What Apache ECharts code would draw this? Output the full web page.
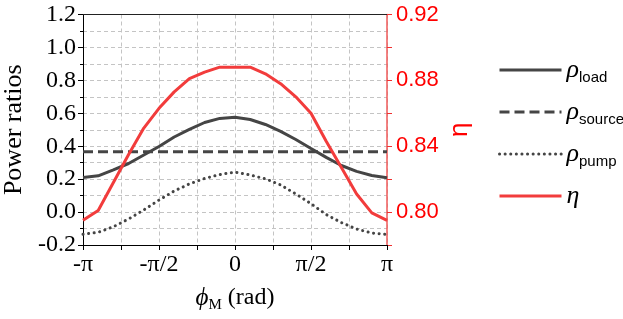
<!DOCTYPE html>
<html><head><meta charset="utf-8">
<script src="https://cdn.jsdelivr.net/npm/echarts@6/dist/echarts.min.js"></script>
<style>html,body{margin:0;padding:0;background:#fff}#c{width:623px;height:319px}</style>
</head><body><div id="c"></div>
<script>
// phase in units of pi
const phase = [-1,-0.9,-0.8,-0.7,-0.6,-0.5,-0.4,-0.3,-0.2,-0.1,0,0.1,0.2,0.3,0.4,0.5,0.6,0.7,0.8,0.9,1];
const rhoLoad = [0.210,0.220,0.256,0.295,0.347,0.398,0.456,0.502,0.544,0.569,0.576,0.562,0.532,0.490,0.441,0.386,0.332,0.283,0.247,0.222,0.209];
const rhoSource = [0.367,0.367,0.367,0.367,0.367,0.367,0.367,0.367,0.367,0.367,0.367,0.367,0.367,0.367,0.367,0.367,0.367,0.367,0.367,0.367,0.367];
const rhoPump = [-0.135,-0.123,-0.089,-0.042,0.013,0.073,0.128,0.171,0.204,0.228,0.243,0.225,0.202,0.165,0.110,0.051,-0.015,-0.064,-0.103,-0.127,-0.136];
const eta = [0.795,0.801,0.818,0.835,0.851,0.863,0.873,0.881,0.885,0.888,0.888,0.888,0.884,0.878,0.870,0.860,0.843,0.827,0.811,0.7995,0.795];
const xTickLabels = {'-1':'-π','-0.5':'-π/2','0':'0','0.5':'π/2','1':'π'};

const pair = (ys) => phase.map((x,i)=>[x, ys[i]]);
const serif = 'Liberation Serif';
const sans = 'Liberation Sans';
const dark = '#454545';
const red = '#f23c3c';

const chart = echarts.init(document.getElementById('c'), null, {renderer:'canvas'});
chart.setOption({
  animation:false,
  backgroundColor:'#fff',
  textStyle:{fontFamily:serif},
  grid:{left:81, right:236, top:14.5, bottom:74},
  legend:{
    orient:'vertical', left:493, top:52, itemWidth:62, itemHeight:14, itemGap:14,
    data:['load','source','pump','eta'],
    itemStyle:{opacity:0},
    lineStyle:{width:3},
    formatter: function(n){ return n==='eta' ? '{g|η}' : '{r|ρ}{s|'+n+'}'; },
    textStyle:{
      fontFamily:serif, fontStyle:'italic', fontSize:26, color:'#000',
      rich:{
        r:{fontFamily:serif, fontStyle:'italic', fontSize:26, color:'#000', lineHeight:30, verticalAlign:'middle'},
        g:{fontFamily:serif, fontStyle:'italic', fontSize:26, color:'#000', lineHeight:30, verticalAlign:'middle'},
        s:{fontFamily:sans, fontStyle:'normal', fontSize:15, color:'#000', lineHeight:15, verticalAlign:'bottom'}
      }
    }
  },
  xAxis:[{
    type:'value', min:-1, max:1, interval:0.25,
    axisLine:{show:true, onZero:false, lineStyle:{color:'#000', width:1}},
    axisTick:{show:true, inside:false, length:5, lineStyle:{color:'#000'}},
    axisLabel:{fontFamily:serif, fontSize:24, color:'#000', margin:8,
      formatter:function(v){ const k = String(Math.round(v*100)/100); return xTickLabels[k] !== undefined ? xTickLabels[k] : ''; }},
    splitLine:{show:true, lineStyle:{color:'#c4c4c4', type:[4,3], width:1}},
    name:'{p|ϕ}{m|M}{t| (rad)}', nameLocation:'middle', nameGap:38,
    nameTextStyle:{fontFamily:serif, rich:{
      p:{fontFamily:serif, fontStyle:'italic', fontSize:25, color:'#000', lineHeight:30, verticalAlign:'middle'},
      m:{fontFamily:serif, fontSize:15, color:'#000', lineHeight:15, verticalAlign:'bottom'},
      t:{fontFamily:serif, fontSize:24, color:'#000', lineHeight:30, verticalAlign:'middle'}
    }}
  },{
    type:'value', min:-1, max:1, position:'top',
    axisLine:{show:true, onZero:false, lineStyle:{color:'#222', width:1}},
    axisTick:{show:false}, axisLabel:{show:false}, splitLine:{show:false}
  }],
  yAxis:[{
    type:'value', min:-0.2, max:1.2, interval:0.2,
    axisLine:{show:true, onZero:false, lineStyle:{color:'#000', width:1}},
    axisTick:{show:true, length:5, lineStyle:{color:'#000'}},
    minorTick:{show:true, splitNumber:2, length:3, lineStyle:{color:'#000'}},
    splitLine:{show:true, lineStyle:{color:'#c4c4c4', type:[4,3], width:1}},
    minorSplitLine:{show:true, lineStyle:{color:'#c4c4c4', type:[4,3], width:1}},
    axisLabel:{fontFamily:serif, fontSize:24, color:'#000', margin:7, formatter:v=>v.toFixed(1)},
    name:'Power ratios', nameLocation:'middle', nameRotate:90, nameGap:56,
    nameTextStyle:{fontFamily:serif, fontSize:26, color:'#000'}
  },{
    type:'value', min:0.78, max:0.92, interval:0.02, position:'right',
    axisLine:{show:true, onZero:false, lineStyle:{color:'#f05a5a', width:1.5}},
    axisTick:{show:true, length:5, lineStyle:{color:'#f03030'}},
    splitLine:{show:false},
    axisLabel:{fontFamily:sans, fontSize:22, color:'#ff0000', margin:9,
      formatter:function(v){ return Math.round(v*100)%4===0 ? v.toFixed(2) : ''; }},
    name:'η', nameLocation:'middle', nameRotate:90, nameGap:60,
    nameTextStyle:{fontFamily:sans, fontSize:26, color:'#ff0000'}
  }],
  series:[
    {name:'load', type:'line', data:pair(rhoLoad), symbol:'none', showSymbol:false, z:3,
      lineStyle:{color:dark, width:3}, itemStyle:{color:dark}},
    {name:'source', type:'line', data:pair(rhoSource), symbol:'none', showSymbol:false, z:3,
      lineStyle:{color:dark, width:3, type:[10,5]}, itemStyle:{color:dark}},
    {name:'pump', type:'line', data:pair(rhoPump), symbol:'none', showSymbol:false, z:3,
      lineStyle:{color:dark, width:3, type:[0.1,5.5], cap:'round'}, itemStyle:{color:dark}},
    {name:'eta', type:'line', yAxisIndex:1, data:pair(eta), symbol:'none', showSymbol:false, z:4,
      lineStyle:{color:red, width:3}, itemStyle:{color:red}}
  ]
});
</script></body></html>
